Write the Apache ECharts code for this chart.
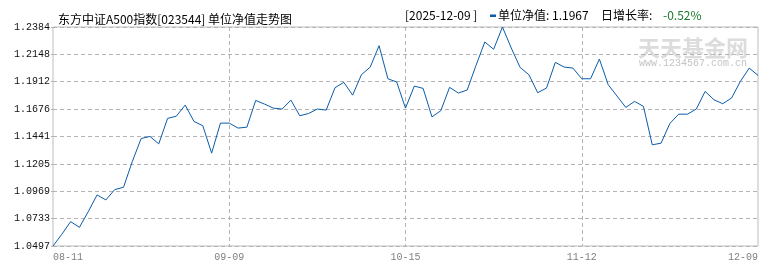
<!DOCTYPE html>
<html><head><meta charset="utf-8">
<script src="https://cdn.jsdelivr.net/npm/echarts@6/dist/echarts.min.js"></script>
<style>html,body{margin:0;padding:0;background:#fff}#c{width:770px;height:270px}</style>
</head><body><div id="c"></div>
<script>
// trading dates (81 points)
const dates = [
  '2025-08-11','2025-08-12','2025-08-13','2025-08-14','2025-08-15',
  '2025-08-18','2025-08-19','2025-08-20','2025-08-21','2025-08-22',
  '2025-08-25','2025-08-26','2025-08-27','2025-08-28','2025-08-29',
  '2025-09-01','2025-09-02','2025-09-03','2025-09-04','2025-09-05',
  '2025-09-08','2025-09-09','2025-09-10','2025-09-11','2025-09-12',
  '2025-09-15','2025-09-16','2025-09-17','2025-09-18','2025-09-19',
  '2025-09-22','2025-09-23','2025-09-24','2025-09-25','2025-09-26',
  '2025-09-29','2025-09-30',
  '2025-10-09','2025-10-10',
  '2025-10-13','2025-10-14','2025-10-15','2025-10-16','2025-10-17',
  '2025-10-20','2025-10-21','2025-10-22','2025-10-23','2025-10-24',
  '2025-10-27','2025-10-28','2025-10-29','2025-10-30','2025-10-31',
  '2025-11-03','2025-11-04','2025-11-05','2025-11-06','2025-11-07',
  '2025-11-10','2025-11-11','2025-11-12','2025-11-13','2025-11-14',
  '2025-11-17','2025-11-18','2025-11-19','2025-11-20','2025-11-21',
  '2025-11-24','2025-11-25','2025-11-26','2025-11-27','2025-11-28',
  '2025-12-01','2025-12-02','2025-12-03','2025-12-04','2025-12-05',
  '2025-12-08','2025-12-09'
];
// unit NAV values
const navValues = [
  1.0497,1.0598,1.0707,1.0658,1.0793,1.0937,1.0894,1.0983,1.1003,1.1225,
  1.1423,1.1441,1.1377,1.1596,1.1616,1.1711,1.1570,1.1533,1.1297,1.1556,
  1.1556,1.1513,1.1521,1.1751,1.1720,1.1685,1.1677,1.1754,1.1619,1.1639,
  1.1677,1.1668,1.1861,1.1907,1.1797,1.1973,1.2039,1.2223,1.1938,1.1910,
  1.1685,1.1875,1.1855,1.1610,1.1662,1.1864,1.1815,1.1841,1.2053,1.2255,
  1.2192,1.2384,1.2203,1.2036,1.1973,1.1818,1.1858,1.2079,1.2039,1.2030,
  1.1938,1.1938,1.2108,1.1887,1.1789,1.1691,1.1743,1.1700,1.1369,1.1383,
  1.1553,1.1633,1.1633,1.1677,1.1829,1.1757,1.1723,1.1772,1.1915,1.2030,
  1.1967
];
const xTickLabels = ['08-11','09-09','10-15','11-12','12-09'];
const yTickLabels = ['1.0497','1.0733','1.0969','1.1205','1.1441','1.1676','1.1912','1.2148','1.2384'];
const titleText = '东方中证A500指数[023544] 单位净值走势图';
const yMin = 1.0497, yMax = 1.2384;

const n = navValues.length;
const last = navValues[n - 1], prev = navValues[n - 2];
const latestText = last.toFixed(4);
const growthText = ((last / prev - 1) * 100).toFixed(2) + '%';
const lastDate = dates[n - 1];

const cjk = '"Noto Sans CJK SC", sans-serif';
const mono = '"Liberation Mono", monospace';

const chart = echarts.init(document.getElementById('c'), null, {renderer: 'canvas'});
chart.setOption({
  animation: false,
  backgroundColor: '#ffffff',
  title: {
    text: titleText, left: 53, top: 8,
    textStyle: {fontSize: 12, fontWeight: 'normal', color: '#000', fontFamily: cjk}
  },
  grid: {
    left: 53, right: 12, top: 27, bottom: 24,
    show: true, borderColor: '#bdbdbd', borderWidth: 1,
    containLabel: false, outerBoundsMode: 'none'
  },
  xAxis: {
    type: 'category', data: dates, boundaryGap: false,
    axisLine: {show: false}, axisTick: {show: false},
    axisLabel: {
      interval: (i) => i % 20 === 0,
      formatter: (v, i) => xTickLabels[Math.round(i / 20)],
      alignMinLabel: 'left', alignMaxLabel: 'right',
      color: '#808080', fontSize: 10, fontFamily: mono, margin: 6
    },
    splitLine: {
      show: true,
      interval: (i) => i % 20 === 0 && i > 0 && i < n - 1,
      lineStyle: {color: '#b4b4b4', type: [4, 3], width: 1}
    }
  },
  yAxis: {
    type: 'value', min: yMin, max: yMax, interval: (yMax - yMin) / 8,
    axisLine: {show: false},
    axisTick: {show: true, length: 2, lineStyle: {color: '#b4b4b4'}},
    axisLabel: {
      formatter: (v, i) => yTickLabels[i] !== undefined ? yTickLabels[i] : '',
      color: '#111', fontSize: 10, fontFamily: mono, margin: 3
    },
    splitLine: {show: true, lineStyle: {color: '#b4b4b4', type: [4, 3], width: 1}}
  },
  graphic: [
    {type: 'text', z: -1, style: {x: 638, y: 37, text: '天天基金网', font: 'bold 22px ' + cjk, fill: '#dcdcdc'}},
    {type: 'text', z: -1, style: {x: 639, y: 58, text: 'www.1234567.com.cn', font: '10px ' + mono, fill: '#c4c4c4'}},
    {type: 'text', style: {x: 405, y: 15, text: '[' + lastDate + ' ]', font: '12px ' + cjk, fill: '#000', verticalAlign: 'middle'}},
    {type: 'rect', shape: {x: 490, y: 14.5, width: 6, height: 2.5}, style: {fill: '#0b5ca8'}},
    {type: 'text', style: {x: 498, y: 15, text: '单位净值: ' + latestText, font: '12px ' + cjk, fill: '#000', verticalAlign: 'middle'}},
    {type: 'text', style: {x: 601, y: 15, text: '日增长率:', font: '12px ' + cjk, fill: '#000', verticalAlign: 'middle'}},
    {type: 'text', style: {x: 663, y: 15, text: growthText, font: '12px ' + cjk, fill: '#1a7a30', verticalAlign: 'middle'}}
  ],
  series: [{
    type: 'line', data: navValues, showSymbol: false, symbol: 'none',
    lineStyle: {color: '#0b5ca8', width: 1}, z: 5
  }]
});
</script>
</body></html>
